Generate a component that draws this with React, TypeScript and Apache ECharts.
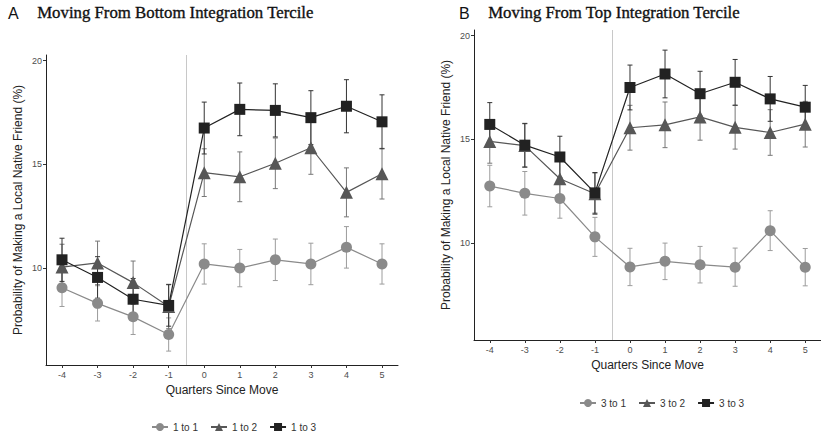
import React, { useEffect, useRef } from "react";
import * as echarts from "echarts";

const quarters = [-4, -3, -2, -1, 0, 1, 2, 3, 4, 5];
const yTicks = [10, 15, 20];

// Panel A: moving from bottom integration tercile
const a11 = [9.05, 8.3, 7.65, 6.8, 10.2, 10.0, 10.4, 10.2, 11.0, 10.2];
const a11err = [0.9, 0.85, 0.85, 0.8, 0.97, 0.9, 1.0, 1.0, 1.0, 0.97];
const a12 = [10.05, 10.25, 9.3, 8.15, 14.6, 14.4, 15.05, 15.8, 13.65, 14.55];
const a12err = [1.1, 1.05, 1.04, 1.07, 1.15, 1.2, 1.22, 1.28, 1.18, 1.22];
const a13 = [10.4, 9.55, 8.5, 8.2, 16.75, 17.65, 17.6, 17.25, 17.8, 17.05];
const a13err = [1.04, 1.0, 1.0, 1.0, 1.25, 1.27, 1.28, 1.3, 1.28, 1.3];

// Panel B: moving from top integration tercile
const b31 = [12.75, 12.4, 12.15, 10.3, 8.85, 9.12, 8.96, 8.84, 10.6, 8.84];
const b31err = [1.0, 1.05, 0.95, 0.94, 0.9, 0.88, 0.88, 0.92, 0.96, 0.9];
const b32 = [14.9, 14.7, 13.1, 12.38, 15.56, 15.7, 16.08, 15.58, 15.33, 15.73];
const b32err = [1.05, 1.05, 1.0, 1.0, 1.08, 1.1, 1.12, 1.05, 1.1, 1.1];
const b33 = [15.72, 14.72, 14.15, 12.42, 17.5, 18.15, 17.2, 17.75, 16.95, 16.55];
const b33err = [1.05, 1.05, 1.0, 0.98, 1.08, 1.15, 1.08, 1.1, 1.08, 1.05];

const namesA = ["1 to 1", "1 to 2", "1 to 3"];
const namesB = ["3 to 1", "3 to 2", "3 to 3"];
const symbols = ["circle", "triangle", "rect"];
const symbolSizes = [11, 13, 11];
const colors = ["#8a8a8a", "#575757", "#222222"];
const errColors = ["#9c9c9c", "#777777", "#333333"];

const SANS = "Liberation Sans, Arial, Helvetica, sans-serif";
const SERIF = `"Liberation Serif", "DejaVu Serif", serif`;

export default function App() {
  const ref = useRef<HTMLDivElement>(null);
  useEffect(() => {
    document.body.style.margin = "0";
    if (!ref.current) return;
    const chart = echarts.init(ref.current, null, { renderer: "svg" });

    const makeErr = (vals: number[], errs: number[], ci: number, axis: number) => ({
      type: "custom",
      xAxisIndex: axis,
      yAxisIndex: axis,
      silent: true,
      z: 1,
      data: quarters.map((q, i) => [q, vals[i] - errs[i], vals[i] + errs[i]]),
      renderItem: (params: any, api: any) => {
        const x = api.value(0);
        const p1 = api.coord([x, api.value(1)]);
        const p2 = api.coord([x, api.value(2)]);
        const w = 2.5;
        const st = { stroke: errColors[ci], lineWidth: 1 };
        return {
          type: "group",
          children: [
            { type: "line", shape: { x1: p1[0], y1: p1[1], x2: p2[0], y2: p2[1] }, style: st },
            { type: "line", shape: { x1: p1[0] - w, y1: p1[1], x2: p1[0] + w, y2: p1[1] }, style: st },
            { type: "line", shape: { x1: p2[0] - w, y1: p2[1], x2: p2[0] + w, y2: p2[1] }, style: st },
          ],
        };
      },
    });

    const makeLine = (name: string, vals: number[], ci: number, axis: number, withMark: boolean) => ({
      type: "line",
      name,
      xAxisIndex: axis,
      yAxisIndex: axis,
      z: 3,
      symbol: symbols[ci],
      symbolSize: symbolSizes[ci],
      showAllSymbol: true,
      itemStyle: { color: colors[ci] },
      lineStyle: { color: colors[ci], width: 1.2 },
      data: quarters.map((q, i) => [q, vals[i]]),
      markLine: withMark
        ? {
            silent: true,
            symbol: "none",
            label: { show: false },
            lineStyle: { color: "#c8c8c8", type: "solid", width: 1 },
            data: [{ xAxis: -0.5 }],
            z: 0,
          }
        : undefined,
    });

    const xAxisBase = (gi: number) => ({
      type: "value",
      gridIndex: gi,
      min: -4.45,
      max: 5.45,
      name: "Quarters Since Move",
      nameLocation: "middle",
      nameGap: 19,
      nameTextStyle: { fontFamily: SANS, fontSize: 12, color: "#222" },
      axisLine: { show: true, onZero: false, lineStyle: { color: "#222", width: 1 } },
      axisTick: { show: true, length: 3, customValues: quarters, lineStyle: { color: "#333" } },
      axisLabel: { customValues: quarters, fontFamily: SANS, fontSize: 9, color: "#4d4d4d", margin: 5 },
      splitLine: { show: false },
    });

    const yAxisBase = (gi: number) => ({
      type: "value",
      gridIndex: gi,
      min: 5.33,
      max: 20.27,
      name: "Probability of Making a Local Native Friend (%)",
      nameLocation: "middle",
      nameGap: 22,
      nameTextStyle: { fontFamily: SANS, fontSize: 12, color: "#222" },
      axisLine: { show: true, onZero: false, lineStyle: { color: "#222", width: 1 } },
      axisTick: { show: true, length: 3, customValues: yTicks, lineStyle: { color: "#333" } },
      axisLabel: { customValues: yTicks, fontFamily: SANS, fontSize: 9, color: "#4d4d4d", margin: 4 },
      splitLine: { show: false },
    });

    const legendBase = (names: string[], left: number, top: number) => ({
      data: names,
      left,
      top,
      orient: "horizontal",
      itemWidth: 16,
      itemHeight: 10,
      itemGap: 12,
      textStyle: { fontFamily: SANS, fontSize: 10, color: "#333" },
      selectedMode: false,
    });

    const titleStyle = (text: string) => ({
      text,
      font: `16.8px ${SERIF}`,
      fill: "#111",
      stroke: "#111",
      lineWidth: 0.35,
    });

    chart.setOption({
      animation: false,
      backgroundColor: "#ffffff",
      grid: [
        { left: 46, top: 55, width: 352, height: 310 },
        { left: 474, top: 30, width: 351, height: 310 },
      ],
      xAxis: [xAxisBase(0), xAxisBase(1)],
      yAxis: [yAxisBase(0), yAxisBase(1)],
      legend: [legendBase(namesA, 146, 417), legendBase(namesB, 574, 393)],
      graphic: [
        { type: "text", left: 8, top: 5, style: { text: "A", font: `16px ${SANS}`, fill: "#111" } },
        { type: "text", left: 37, top: 4, style: titleStyle("Moving From Bottom Integration Tercile") },
        { type: "text", left: 459, top: 5, style: { text: "B", font: `16px ${SANS}`, fill: "#111" } },
        { type: "text", left: 488, top: 4, style: titleStyle("Moving From Top Integration Tercile") },
      ],
      series: [
        makeErr(a11, a11err, 0, 0),
        makeErr(a12, a12err, 1, 0),
        makeErr(a13, a13err, 2, 0),
        makeLine(namesA[0], a11, 0, 0, true),
        makeLine(namesA[1], a12, 1, 0, false),
        makeLine(namesA[2], a13, 2, 0, false),
        makeErr(b31, b31err, 0, 1),
        makeErr(b32, b32err, 1, 1),
        makeErr(b33, b33err, 2, 1),
        makeLine(namesB[0], b31, 0, 1, true),
        makeLine(namesB[1], b32, 1, 1, false),
        makeLine(namesB[2], b33, 2, 1, false),
      ],
    });
    return () => chart.dispose();
  }, []);
  return <div ref={ref} style={{ width: 821, height: 434 }} />;
}
